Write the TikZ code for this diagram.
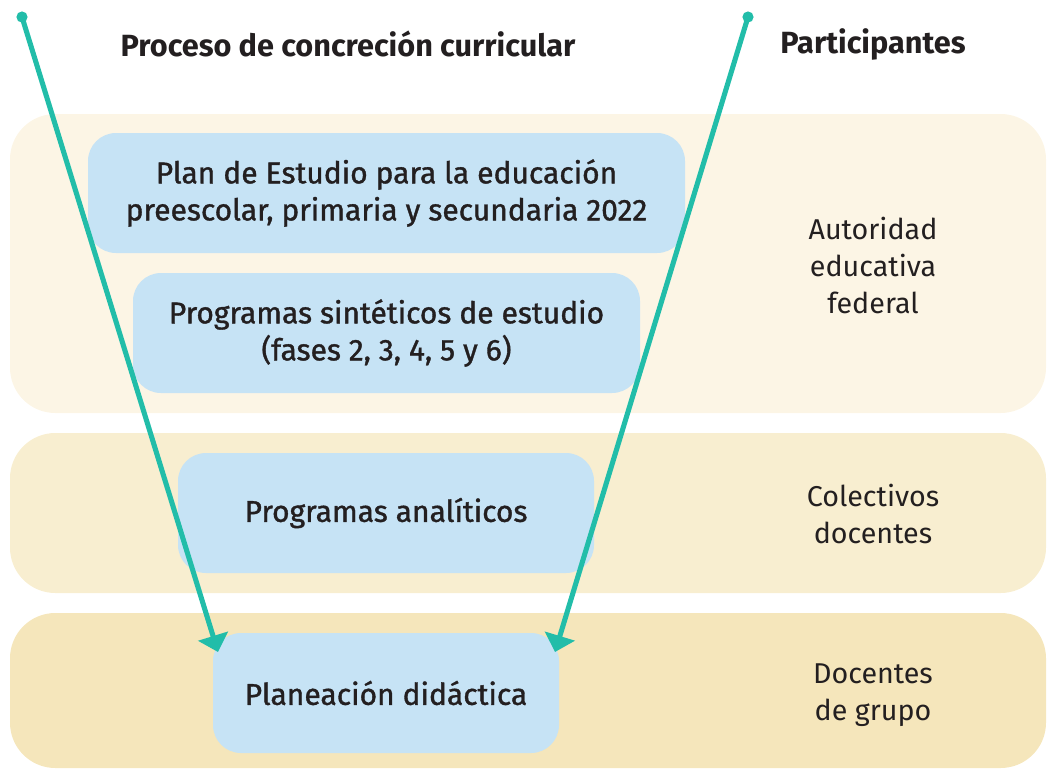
\documentclass[tikz,border=0pt]{standalone}
\usepackage{fontspec}
\setmainfont{Fira Sans}
\newfontfamily\medfont{Fira Sans}[BoldFont=Fira Sans, BoldFeatures={FakeBold=1.2}]
\usepackage{tikz}
\usetikzlibrary{arrows.meta, positioning}
\definecolor{bandone}{RGB}{252,245,229}
\definecolor{bandtwo}{RGB}{248,238,208}
\definecolor{bandthree}{RGB}{245,230,187}
\definecolor{boxcolor}{RGB}{198,227,245}
\definecolor{arrowcolor}{RGB}{34,189,169}
\definecolor{textcolor}{RGB}{35,31,32}

\begin{document}
\begin{tikzpicture}[
    x=0.75pt, y=-0.75pt,
    band/.style={fill=#1, rounded corners=34pt, minimum width=777pt, inner sep=0pt, outer sep=0pt},
    stage/.style={fill=boxcolor, rounded corners=21pt, minimum height=90pt, inner sep=0pt, outer sep=0pt, align=center, text=textcolor, font=\fontsize{22.5}{27.75}\selectfont\medfont\bfseries},
    who/.style={align=center, text=textcolor, font=\fontsize{21.5}{27.75}\selectfont},
    head/.style={text=textcolor, font=\fontsize{23}{27}\selectfont\bfseries},
    flow/.style={-{Triangle[length=12.5pt, width=23pt]}, line width=3.8pt, arrowcolor}
]
    \useasboundingbox (0,0) rectangle (1047,769);

    % Bands
    \node[band=bandone, minimum height=224.25pt] (b1) at (528,263.5) {};
    \node[band=bandtwo, minimum height=120pt] (b2) at (528,513) {};
    \node[band=bandthree, minimum height=116.25pt] (b3) at (528,690.5) {};

    % Headings
    \node[head] (h1) at (348,44) {Proceso de concreción curricular};
    \node[head] (h2) at (873,44) {Participantes};

    % Stages
    \node[stage, minimum width=447.75pt] (s1) at (386.5,193) {Plan de Estudio para la educación\\preescolar, primaria y secundaria 2022};
    \node[stage, minimum width=380.25pt] (s2) at (386.5,333) {Programas sintéticos de estudio\\(fases 2, 3, 4, 5 y 6)};
    \node[stage, minimum width=312pt] (s3) at (386,513) {Programas analíticos};
    \node[stage, minimum width=259.5pt] (s4) at (386,693) {Planeación didáctica};

    % Participants
    \node[who] (p1) at (873,265) {Autoridad\\educativa\\federal};
    \node[who] (p2) at (873,514) {Colectivos\\docentes};
    \node[who] (p3) at (873,695) {Docentes\\de grupo};

    % Arrows
    \coordinate (ls) at (22,17);
    \coordinate (rs) at (748,17);
    \coordinate (le) at (218,652);
    \coordinate (re) at (555,652);
    \draw[flow] (ls) -- (le);
    \draw[flow] (rs) -- (re);
    \fill[arrowcolor] (ls) circle (4.2pt);
    \fill[arrowcolor] (rs) circle (4.2pt);
\end{tikzpicture}
\end{document}
